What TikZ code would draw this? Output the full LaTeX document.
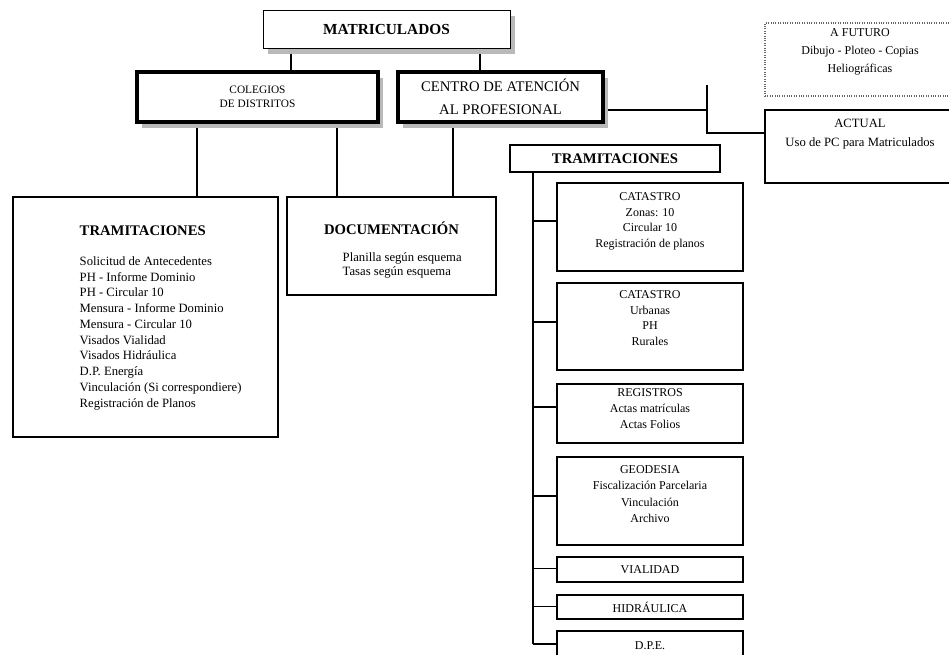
\documentclass[tikz,border=0pt]{standalone}
\usepackage{fontspec}
\setmainfont{Liberation Serif}
\usetikzlibrary{shadows,backgrounds,calc}
\tikzset{
  box/.style={draw, fill=white, inner sep=0pt, align=center, line width=0.8pt},
  thickbox/.style={box, line width=2.4pt},
  shad/.style={drop shadow={shadow xshift=4pt, shadow yshift=-4.5pt, fill=gray!55, opacity=1}},
  conn/.style={line width=0.8pt},
  small/.style={font=\fontsize{9}{11.6}\selectfont, inner sep=0pt, align=center},
  ttl/.style={font=\fontsize{11}{13}\selectfont\bfseries, inner sep=0pt},
  rbox/.style={box, minimum width=139.5pt, font=\fontsize{9}{11.6}\selectfont},
}
\begin{document}
\begin{tikzpicture}[x=0.75pt,y=-0.75pt]
\useasboundingbox (0,0) rectangle (949,654);
\clip (0,0) rectangle (949,654);

% top level
\node[box, line width=0.6pt, shad, minimum width=185.25pt, minimum height=28.5pt,
      font=\fontsize{11.5}{13}\selectfont\bfseries] (mat) at (386.5,29) {MATRICULADOS};
\node[thickbox, shad, minimum width=180.75pt, minimum height=37.5pt,
      font=\fontsize{8.5}{10.5}\selectfont] (col) at (257.5,97) {COLEGIOS\\DE DISTRITOS};
\node[thickbox, shad, minimum width=153.75pt, minimum height=37.5pt,
      font=\fontsize{11}{17}\selectfont] (cen) at (500.5,97) {CENTRO DE ATENCIÓN\\AL PROFESIONAL};

% right top
\node[box, densely dotted, draw=gray!80!black, minimum width=142.5pt, minimum height=54.75pt] (fut) at (860,59.5) {};
\node[small, anchor=north, font=\fontsize{9}{13.5}\selectfont] (futt) at ([yshift=-4.5pt]fut.north)
  {A FUTURO\\Dibujo - Ploteo - Copias\\Heliográficas};
\node[box, minimum width=142.5pt, minimum height=54.75pt] (act) at (860,146.5) {};
\node[small, anchor=north, font=\fontsize{9.5}{14.2}\selectfont] (actt) at ([yshift=-6.75pt]act.north)
  {ACTUAL\\Uso de PC para Matriculados};

% left tramitaciones
\node[box, minimum width=198.75pt, minimum height=180pt] (tram1) at (145.5,317) {};
\node[ttl, anchor=base west] (tram1h) at ([xshift=50.25pt,yshift=-29.25pt]tram1.north west) {TRAMITACIONES};
\node[anchor=north west, inner sep=0pt, align=left, font=\fontsize{9.5}{11.8}\selectfont] (tram1b)
  at ([xshift=50.25pt,yshift=-45pt]tram1.north west)
  {Solicitud de Antecedentes\\PH - Informe Dominio\\PH - Circular 10\\Mensura - Informe Dominio\\Mensura - Circular 10\\Visados Vialidad\\Visados Hidráulica\\D.P. Energía\\Vinculación (Si correspondiere)\\Registración de Planos};

% documentacion
\node[box, minimum width=156.75pt, minimum height=73.5pt] (doc) at (391.5,246) {};
\node[ttl, anchor=base] (doch) at ([yshift=-28.5pt]doc.north) {DOCUMENTACIÓN};
\node[anchor=north west, inner sep=0pt, align=left, font=\fontsize{9.5}{10.5}\selectfont] (docb)
  at ([xshift=42pt,yshift=-42pt]doc.north west) {Planilla según esquema\\Tasas según esquema};

% right tramitaciones
\node[box, ttl, draw, line width=0.8pt, minimum width=157.5pt, minimum height=20.25pt] (tram2) at (615,158.5) {TRAMITACIONES};
\node[rbox, minimum height=66pt] (cat1) at (650,227) {};
\node[small, anchor=north] (cat1t) at ([yshift=-7.5pt]cat1.north) {CATASTRO\\Zonas: 10\\Circular 10\\Registración de planos};
\node[rbox, minimum height=65.25pt] (cat2) at (650,326.5) {};
\node[small, anchor=north] (cat2t) at ([yshift=-6pt]cat2.north) {CATASTRO\\Urbanas\\PH\\Rurales};
\node[rbox, minimum height=44.25pt] (reg) at (650,413.5) {};
\node[small, anchor=north, font=\fontsize{9}{12}\selectfont] (regt) at ([yshift=-3.75pt]reg.north) {REGISTROS\\Actas matrículas\\Actas Folios};
\node[rbox, minimum height=66pt] (geo) at (650,501) {};
\node[small, anchor=north, font=\fontsize{9}{12.2}\selectfont] (geot) at ([yshift=-6.75pt]geo.north) {GEODESIA\\Fiscalización Parcelaria\\Vinculación\\Archivo};
\node[rbox, minimum height=18.75pt] (via) at (650,569.5) {VIALIDAD};
\node[rbox, minimum height=18pt] (hid) at (650,607) {HIDRÁULICA};
\node[rbox, minimum height=21.75pt] (dpe) at (650,645.5) {D.P.E.};

% connectors
\coordinate (k1) at (291,60);
\coordinate (k2) at (480,60);
\coordinate (k3) at (197,150);
\coordinate (k4) at (337,150);
\coordinate (k5) at (453,150);
\coordinate (jm) at (707,110);
\coordinate (jt) at (707,85);
\coordinate (jb) at (707,133);
\coordinate (sp) at (533,400);
\begin{scope}[on background layer]
\draw[conn] (k1 |- mat.south) -- (k1 |- col.north);
\draw[conn] (k2 |- mat.south) -- (k2 |- cen.north);
\draw[conn] (k3 |- col.south) -- (k3 |- tram1.north);
\draw[conn] (k4 |- col.south) -- (k4 |- doc.north);
\draw[conn] (k5 |- cen.south) -- (k5 |- doc.north);
\draw[conn] (cen.east |- jm) -- (jm);
\draw[conn] (jt) -- (jb) -- (jb -| act.west);
\end{scope}
\draw[conn] (sp |- tram2.south) -- ($(sp |- dpe.west)+(0,-1.5)$);
\foreach \n/\s in {cat1/-6, cat2/-4.5, reg/-6.5, geo/-5, via/-0.6, hid/-0.6, dpe/-1.5}
  \draw[conn] ($(\n.west)+(0,\s)$) -- ($(\n.west -| sp)+(0,\s)$);
\end{tikzpicture}
\end{document}
